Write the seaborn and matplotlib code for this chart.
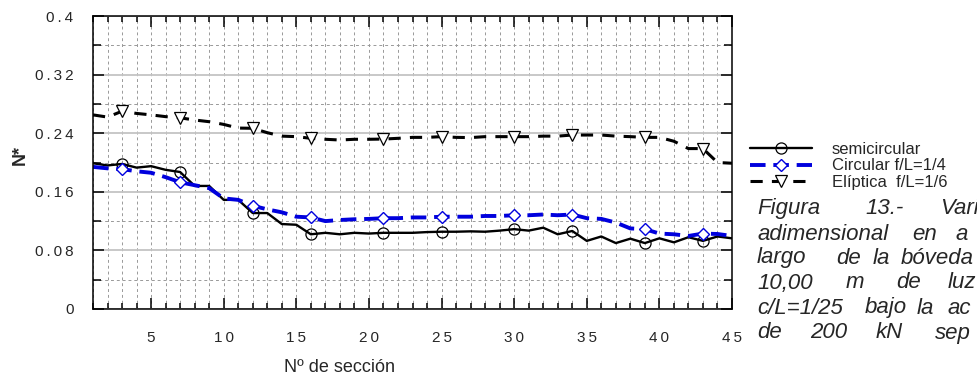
import numpy as np
import pandas as pd
import matplotlib
matplotlib.use("Agg")
import matplotlib.pyplot as plt
from matplotlib.ticker import MultipleLocator, FixedLocator, FixedFormatter
import seaborn as sns

# section numbers 1..45
seccion = list(range(1, 46))

semicircular = [
    0.199, 0.196, 0.198, 0.193, 0.195, 0.190, 0.187, 0.168, 0.168, 0.149,
    0.149, 0.131, 0.131, 0.116, 0.115, 0.102, 0.104, 0.102, 0.104, 0.103,
    0.104, 0.104, 0.104, 0.105, 0.1055, 0.1055, 0.106, 0.1055, 0.107, 0.109,
    0.107, 0.111, 0.102, 0.1065, 0.093, 0.099, 0.090, 0.096, 0.090, 0.0965,
    0.091, 0.098, 0.093, 0.099, 0.0965,
]
circular = [
    0.194, 0.192, 0.191, 0.188, 0.186, 0.180, 0.173, 0.169, 0.165, 0.151,
    0.149, 0.141, 0.136, 0.132, 0.126, 0.125, 0.120, 0.1215, 0.1225, 0.123,
    0.124, 0.124, 0.125, 0.125, 0.126, 0.126, 0.126, 0.127, 0.127, 0.128,
    0.128, 0.129, 0.128, 0.129, 0.124, 0.123, 0.118, 0.110, 0.109, 0.103,
    0.102, 0.0997, 0.103, 0.1024, 0.0997,
]
eliptica = [
    0.265, 0.262, 0.270, 0.267, 0.265, 0.2626, 0.261, 0.258, 0.2557, 0.252,
    0.247, 0.2467, 0.2407, 0.236, 0.2353, 0.233, 0.2317, 0.2307, 0.2317, 0.2317,
    0.232, 0.233, 0.2343, 0.2343, 0.2353, 0.2343, 0.234, 0.2353, 0.2353, 0.2353,
    0.2353, 0.236, 0.236, 0.2375, 0.2375, 0.2375, 0.236, 0.2353, 0.2343, 0.2343,
    0.229, 0.219, 0.219, 0.200, 0.199,
]
marcas = [3, 7, 12, 16, 21, 25, 30, 34, 39, 43]
nombres = ["semicircular", "Circular f/L=1/4", "Elíptica  f/L=1/6"]
yticks = [0, 0.08, 0.16, 0.24, 0.32, 0.4]
ylabels = ["0", "0.08", "0.16", "0.24", "0.32", "0.4"]
xticks = [5, 10, 15, 20, 25, 30, 35, 40, 45]

df = pd.DataFrame({"seccion": seccion, "semi": semicircular,
                   "circ": circular, "elip": eliptica})

sns.set_style("ticks")
plt.rcParams["font.family"] = ["Liberation Sans", "DejaVu Sans"]

fig = plt.figure(figsize=(9.77, 3.85), dpi=100)
ax = fig.add_axes([93 / 977, 1 - 309 / 385, 639 / 977, 293 / 385])

idx = [m - 1 for m in marcas]
sns.lineplot(data=df, x="seccion", y="semi", ax=ax, color="black", lw=1.7,
             marker="o", markersize=8, markerfacecolor="none",
             markeredgecolor="black", markeredgewidth=0.9, markevery=idx,
             label=nombres[0])
sns.lineplot(data=df, x="seccion", y="circ", ax=ax, color="#0000dd", lw=2.8,
             linestyle=(0, (4, 2)), marker="D", markersize=6.5,
             markerfacecolor="white", markeredgecolor="#0000dd",
             markeredgewidth=1.0, markevery=idx, label=nombres[1])
sns.lineplot(data=df, x="seccion", y="elip", ax=ax, color="black", lw=2.2,
             linestyle=(0, (4, 3)), marker="v", markersize=9,
             markerfacecolor="white", markeredgecolor="black",
             markeredgewidth=0.9, markevery=idx, label=nombres[2])

ax.set_xlim(1, 45)
ax.set_ylim(0, 0.4)

thin = "\u2009"
ax.xaxis.set_major_locator(FixedLocator(xticks))
ax.xaxis.set_major_formatter(FixedFormatter([thin.join(str(t)) for t in xticks]))
ax.xaxis.set_minor_locator(MultipleLocator(1))
ax.yaxis.set_major_locator(FixedLocator(yticks))
ax.yaxis.set_major_formatter(FixedFormatter([thin.join(s) for s in ylabels]))
ax.yaxis.set_minor_locator(MultipleLocator(0.04))

ax.tick_params(axis="both", which="both", direction="in", top=True, right=True,
               color="black", width=1.1)
ax.tick_params(axis="x", which="major", length=8, pad=16, labelsize=11)
ax.tick_params(axis="x", which="minor", length=4)
ax.tick_params(axis="y", which="major", length=8, pad=14, labelsize=11)
ax.tick_params(axis="y", which="minor", length=6)

ax.grid(True, axis="x", which="both", color="#999999", ls=(0, (3, 3)), lw=0.7)
ax.grid(True, axis="y", which="major", color="#c4c4c4", ls="-", lw=1.3)
ax.grid(True, axis="y", which="minor", color="#999999", ls=(0, (3, 3)), lw=0.7)
ax.set_axisbelow(True)
for s in ax.spines.values():
    s.set_color("black")
    s.set_linewidth(1.1)

ax.set_xlabel("")
ax.set_ylabel("")
fig.text(339 / 977, 1 - 368 / 385, "Nº de sección", fontsize=13,
         ha="center", va="center")
fig.text(20 / 977, 1 - 155 / 385, "N*", fontsize=13, fontweight="bold",
         rotation=90, ha="center", va="center")

ax.legend(loc="upper left", bbox_to_anchor=(750 / 977, 1 - 142 / 385),
          bbox_transform=fig.transFigure, frameon=False, fontsize=12,
          handlelength=3.7, handletextpad=1.2, labelspacing=0.08,
          borderaxespad=0, borderpad=0)

# caption of the source document, as far as it shows inside the figure
caption = [
    (209, [(757, "Figura"), (865, "13.-"), (940, "Vari")]),
    (234, [(757, "adimensional"), (912, "en"), (955, "a")]),
    (258, [(757, "largo"), (836, "de"), (873, "la"), (901, "bóveda")]),
    (283, [(757, "10,00"), (846, "m"), (896, "de"), (948, "luz")]),
    (308, [(757, "c/L=1/25"), (865, "bajo"), (917, "la"), (947, "ac")]),
    (333, [(757, "de"), (810, "200"), (876, "kN"), (935, "sep")]),
]
for yy, words in caption:
    for xx, w in words:
        fig.text(xx / 977, 1 - yy / 385, w, fontsize=16, style="italic",
                 ha="left", va="center")

fig.savefig("out.png", dpi=100)
